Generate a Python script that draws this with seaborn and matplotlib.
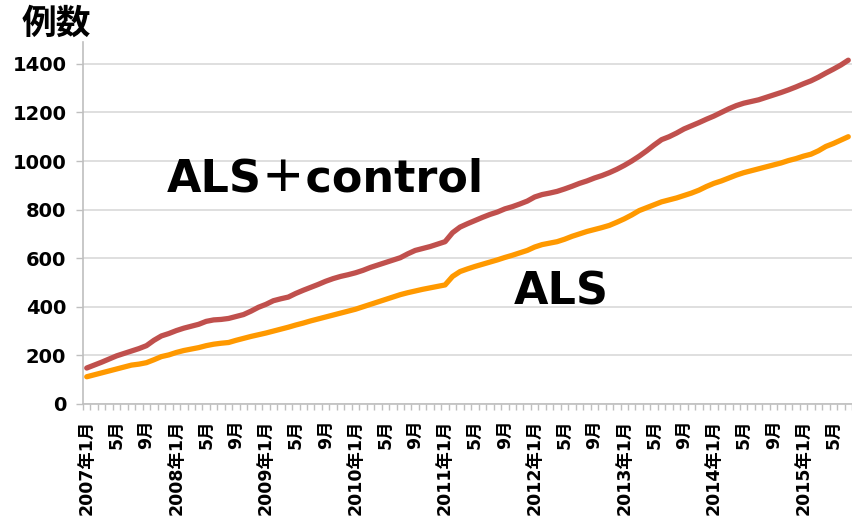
import numpy as np
import pandas as pd
import seaborn as sns
import matplotlib.pyplot as plt

# monthly cumulative counts, 2007-01 .. 2015-07
als_control = [148, 160, 172, 185, 198, 208, 218, 228, 240, 262,
               280, 290, 302, 312, 320, 328, 340, 346, 348, 352,
               360, 368, 382, 398, 410, 425, 433, 440, 455, 468,
               480, 492, 505, 516, 525, 532, 540, 550, 562, 572,
               582, 592, 602, 618, 632, 640, 648, 658, 668, 705,
               728, 742, 755, 768, 780, 790, 803, 812, 823, 835,
               852, 862, 868, 875, 885, 896, 908, 918, 930, 940,
               952, 966, 982, 1000, 1020, 1042, 1066, 1088, 1100, 1115,
               1132, 1145, 1158, 1172, 1185, 1200, 1215, 1228, 1238, 1245,
               1252, 1262, 1272, 1282, 1293, 1305, 1318, 1330, 1345, 1362,
               1378, 1395, 1415]
als = [112, 120, 128, 136, 144, 152, 160, 164, 170, 182,
       195, 202, 212, 220, 226, 232, 240, 246, 250, 253,
       262, 270, 278, 285, 292, 300, 308, 316, 325, 333,
       342, 350, 358, 366, 374, 382, 390, 400, 410, 420,
       430, 440, 450, 458, 465, 472, 478, 484, 490, 525,
       545, 556, 566, 575, 584, 593, 603, 612, 622, 632,
       646, 656, 662, 668, 678, 690, 700, 710, 718, 726,
       735, 748, 762, 778, 796, 808, 820, 832, 840, 848,
       858, 868, 880, 895, 908, 918, 930, 942, 952, 960,
       968, 976, 984, 992, 1002, 1010, 1020, 1028, 1042, 1060,
       1072, 1086, 1100]

months = pd.date_range('2007-01-01', periods=len(als), freq='MS')
tick_labels = ['2007年1月', '5月', '9月', '2008年1月', '5月', '9月',
               '2009年1月', '5月', '9月', '2010年1月', '5月', '9月',
               '2011年1月', '5月', '9月', '2012年1月', '5月', '9月',
               '2013年1月', '5月', '9月', '2014年1月', '5月', '9月',
               '2015年1月', '5月']
y_ticks = [0, 200, 400, 600, 800, 1000, 1200, 1400]

sns.set_theme(style='white')
plt.rcParams['font.family'] = ['DejaVu Sans', 'Noto Sans CJK JP']
plt.rcParams['text.color'] = 'black'
plt.rcParams['xtick.color'] = 'black'
plt.rcParams['ytick.color'] = 'black'

pos = np.arange(len(months))
df = pd.DataFrame({'pos': np.concatenate([pos, pos]),
                   'count': als_control + als,
                   'series': ['ALS+control'] * len(pos) + ['ALS'] * len(pos)})

fig = plt.figure(figsize=(8.52, 5.22), dpi=100)
ax = fig.add_axes([0.0974, 0.2261, 0.9026, 0.6935])

sns.lineplot(data=df, x='pos', y='count', hue='series',
             palette={'ALS+control': '#C0504D', 'ALS': '#FF9900'},
             linewidth=3.8, legend=False, ax=ax)

ax.set_xlim(-0.5, 102.3)
ax.set_ylim(0, 1490)
ax.set_xlabel('')
ax.set_ylabel('')

# grid + spines
ax.yaxis.grid(True, color='#D9D9D9', linewidth=1.2)
ax.set_axisbelow(True)
for s in ['top', 'right']:
    ax.spines[s].set_visible(False)
for s in ['left', 'bottom']:
    ax.spines[s].set_color('#BFBFBF')
    ax.spines[s].set_linewidth(1.2)

ax.set_yticks(y_ticks)
ax.set_yticklabels([str(v) for v in y_ticks], fontsize=14, fontweight='bold')
ax.tick_params(axis='y', left=True, length=5, width=1, color='#BFBFBF',
               labelcolor='black', pad=7)

ax.set_xticks(pos[::4])
ax.set_xticklabels(tick_labels, rotation=90, fontsize=12.5, fontweight='bold')
ax.set_xticks(np.arange(-0.5, len(pos)), minor=True)
ax.tick_params(axis='x', which='major', bottom=True, length=0, pad=11, labelcolor='black')
ax.tick_params(axis='x', which='minor', bottom=True, length=4, width=1, color='#BFBFBF')

ax.text(10.7, 873, 'ALS＋control', fontsize=32, fontweight='bold', color='black',
        ha='left', va='baseline')
ax.text(57.2, 408, 'ALS', fontsize=32, fontweight='bold', color='black',
        ha='left', va='baseline')

fig.text(22 / 852, 1 - 24 / 522, '例数', fontsize=25, fontweight='bold', color='black',
         ha='left', va='center')

plt.savefig('out.png', dpi=100)
